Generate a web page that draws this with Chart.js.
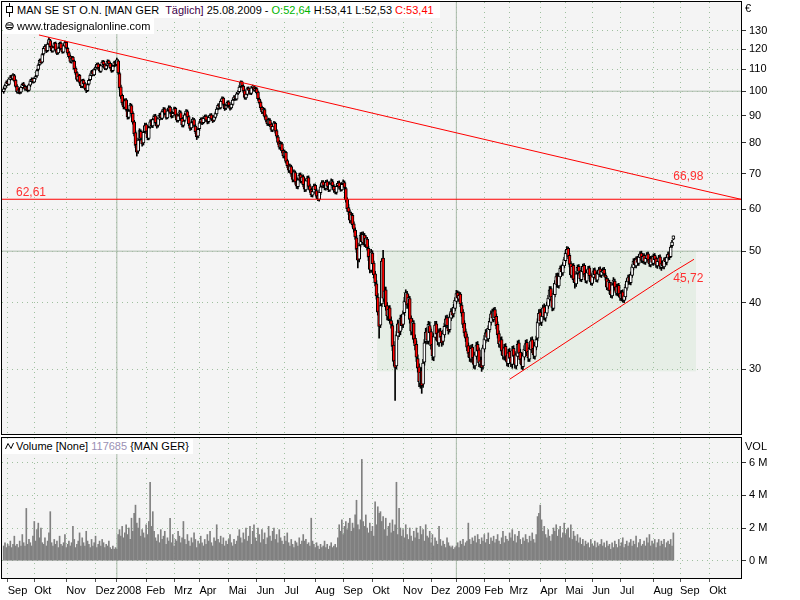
<!DOCTYPE html>
<html>
<head>
<meta charset="utf-8">
<script src="https://cdn.jsdelivr.net/npm/chart.js@4.4.1/dist/chart.umd.min.js"></script>
<style>
  body { margin:0; width:800px; height:600px; background:#fff; overflow:hidden; position:relative;
         font-family:'Liberation Sans', Arial, sans-serif; font-size:11px; color:#000; }
  canvas { position:absolute; left:0; }
  .tag { position:absolute; background:#fff; white-space:nowrap; }
  .tag svg { vertical-align:middle; }
  .axlbl { position:absolute; font-size:11px; line-height:13px; }
</style>
</head>
<body>
<canvas id="priceChart" width="800" height="436" style="top:0"></canvas>
<canvas id="volumeChart" width="800" height="164" style="top:436px"></canvas>

<div class="tag" style="left:3px;top:2px;height:16px;line-height:16px;padding:0 6px 0 2px;">
  <svg width="9" height="14" style="margin-right:3px;margin-top:-2px"><line x1="4.5" y1="0" x2="4.5" y2="14" stroke="#000"/><rect x="1.5" y="3.5" width="6" height="6" fill="#fff" stroke="#000"/></svg><span>MAN SE ST O.N. [MAN GER&nbsp; </span><span style="color:#400048">Täglich]</span> 25.08.2009 - <span style="color:#00b400">O:52,64</span> H:53,41 L:52,53 <span style="color:#ff0000">C:53,41</span>
</div>
<div class="tag" style="left:3px;top:18px;height:16px;line-height:16px;padding:0 4px 0 2px;">
  <svg width="9" height="10" style="margin-right:3px;margin-top:-2px"><ellipse cx="4.5" cy="5" rx="3.8" ry="3.5" fill="none" stroke="#000"/><line x1="1.5" y1="4" x2="7.5" y2="4" stroke="#000"/><line x1="1.5" y1="6.5" x2="7.5" y2="6.5" stroke="#000"/></svg>www.tradesignalonline.com
</div>
<div class="tag" style="left:3px;top:439px;height:15px;line-height:15px;padding:0 4px 0 2px;">
  <svg width="9" height="8" style="margin-right:2px;margin-top:-2px"><polyline points="0.5,7 3,1.5 6,6.5 8.5,1" fill="none" stroke="#000"/></svg>Volume [None] <span style="color:#9a90b4">117685</span> {MAN GER}
</div>
<div class="axlbl" style="left:745px;top:2px">€</div>
<div class="axlbl" style="left:745px;top:440px">VOL</div>

<script>
// time axis: trading-day index, first bar = 29.08.2007
const monthTicks = [3, 23, 47, 69, 85, 107, 128, 147, 169, 190, 211, 234, 255, 277, 300, 321, 340, 361, 380, 403, 422, 442, 463, 488, 508, 530];
const monthLabels = ['Sep', 'Okt', 'Nov', 'Dez', '2008', 'Feb', 'Mrz', 'Apr', 'Mai', 'Jun', 'Jul', 'Aug', 'Sep', 'Okt', 'Nov', 'Dez', '2009', 'Feb', 'Mrz', 'Apr', 'Mai', 'Jun', 'Jul', 'Aug', 'Sep', 'Okt'];
const priceTicks = [30, 40, 50, 60, 70, 80, 90, 100, 110, 120, 130];
const priceSolid = [50, 100];
const volumeTicks = [0, 2, 4, 6];

const opens = [
  99.8,101.2,102.3,104.4,103.0,105.2,106.9,105.5,107.0,104.9,
  102.3,99.5,100.8,99.6,101.5,103.3,102.1,101.1,101.9,100.4,
  102.6,104.2,105.6,104.0,105.9,106.8,109.9,112.3,114.6,113.4,
  117.5,120.1,121.8,119.2,122.8,124.6,121.6,119.0,121.1,123.2,
  119.8,118.1,120.9,123.2,120.3,118.4,121.6,123.6,120.4,118.2,
  116.5,113.5,115.9,114.0,110.6,108.4,104.9,107.1,104.2,102.1,
  104.9,103.4,101.0,100.2,103.1,105.1,107.0,109.2,107.3,110.1,
  110.7,112.6,110.9,109.0,111.6,113.8,112.5,110.2,111.9,114.1,
  112.9,111.0,109.3,111.7,113.4,112.2,114.1,108.0,101.9,98.2,
  95.5,93.2,96.3,92.0,89.3,92.1,94.0,90.9,87.6,83.6,
  79.4,77.1,81.2,84.0,81.2,79.9,83.9,86.5,84.2,81.5,
  85.7,87.9,86.0,88.6,89.9,87.1,86.2,88.6,90.5,88.9,
  91.4,92.7,90.6,89.1,92.2,93.4,91.0,89.8,91.1,92.9,
  90.3,88.0,90.2,91.2,88.9,86.2,88.1,90.5,91.6,89.6,
  86.5,85.3,87.5,88.4,86.0,84.2,82.3,85.0,87.4,88.7,
  87.3,88.7,89.8,88.0,87.6,89.1,90.3,88.5,88.1,89.3,
  90.6,92.8,94.3,93.0,95.6,97.1,94.2,92.9,94.1,95.5,
  93.8,93.0,94.4,96.4,97.7,96.6,99.1,99.8,102.0,104.1,
  102.2,100.3,97.1,98.6,101.4,100.2,99.0,101.7,101.9,100.4,
  101.1,99.6,96.6,95.4,93.3,91.2,92.4,89.9,88.0,86.7,
  88.2,86.7,84.5,85.7,87.0,84.3,82.1,80.3,78.3,79.6,
  77.4,75.4,76.7,74.0,72.6,70.8,72.1,70.0,68.0,70.3,
  67.6,66.1,68.3,69.7,67.6,69.1,66.9,65.2,67.7,68.8,
  66.4,65.3,63.7,64.6,66.5,65.0,63.6,62.6,64.4,66.3,
  67.5,66.3,65.6,67.6,66.0,65.1,67.1,67.6,66.2,65.3,
  64.5,66.4,67.3,66.2,65.2,67.0,67.3,65.6,62.6,60.4,
  59.1,57.0,58.4,56.3,54.8,53.0,50.6,48.3,51.4,53.8,
  51.9,53.6,51.4,52.7,50.6,48.9,46.0,49.6,47.5,45.3,
  43.4,41.0,38.6,36.3,39.8,48.5,40.6,42.3,39.5,37.6,
  39.1,37.0,36.2,33.3,31.2,30.4,34.6,36.7,35.3,37.6,
  36.4,38.3,40.1,41.6,39.8,40.7,37.4,35.2,36.6,34.3,
  33.4,31.4,30.3,28.2,29.8,28.1,30.9,33.8,35.4,33.8,
  36.2,35.3,33.4,31.6,34.4,36.5,35.1,33.6,35.4,34.6,
  33.8,34.8,36.3,37.5,36.0,35.6,37.4,38.6,38.1,39.0,
  40.2,41.8,40.6,41.5,39.6,38.4,36.6,35.3,34.5,33.2,
  32.3,31.3,33.0,31.6,30.4,31.7,33.4,32.6,30.6,31.3,
  30.4,32.7,34.0,35.3,34.2,35.6,36.7,38.3,37.2,38.8,
  37.7,36.4,35.0,33.3,34.1,32.6,31.6,33.1,31.8,30.7,
  32.4,31.6,30.6,32.8,31.9,30.4,31.7,33.6,32.3,31.4,
  30.3,31.6,32.5,33.7,32.4,31.3,32.6,34.1,32.8,31.7,
  33.0,34.3,36.6,38.4,36.7,37.6,39.3,37.4,38.2,39.4,
  40.6,42.5,41.1,39.0,41.4,43.3,45.0,43.0,44.7,46.6,
  45.5,46.9,48.0,49.4,50.6,49.1,47.4,44.9,47.0,44.4,
  43.4,45.5,46.8,45.6,44.2,45.7,47.0,45.4,43.9,45.4,
  46.5,45.1,43.5,44.6,46.1,45.3,44.1,45.2,46.3,45.0,
  45.6,46.2,45.1,44.4,42.6,43.7,42.3,41.2,43.4,43.9,
  42.9,41.6,43.1,41.7,40.7,41.9,40.4,41.0,42.6,43.7,
  44.8,43.6,45.0,46.5,48.1,46.9,48.5,47.4,48.6,49.6,
  47.9,49.1,47.6,48.4,49.4,48.3,47.1,48.6,47.4,49.1,
  48.4,46.9,47.7,48.8,46.6,47.6,46.7,48.3,47.6,48.5,
  49.5,48.8,51.2,52.64
];
const highs = [
  101.8,103.1,104.6,105.0,106.0,107.1,107.3,107.9,107.6,105.3,
  102.9,101.2,101.4,102.3,103.6,103.9,102.6,102.2,102.4,103.3,
  105.2,106.0,105.9,106.3,107.2,110.0,112.6,115.0,115.1,117.8,
  121.2,122.4,122.3,123.4,126.3,125.2,122.0,121.5,123.6,123.8,
  120.4,121.2,123.7,123.8,120.9,122.5,124.3,124.1,120.9,118.9,
  117.0,116.2,116.3,114.5,111.2,108.9,107.4,107.6,104.8,105.3,
  105.4,103.9,101.7,103.4,105.5,107.9,109.5,109.7,110.4,111.6,
  113.0,113.1,111.4,112.4,114.2,114.3,112.9,112.3,114.6,114.5,
  113.3,111.6,112.1,113.9,114.0,115.4,114.6,108.6,102.7,98.8,
  96.4,96.8,96.9,92.6,92.4,94.9,94.6,91.5,88.1,84.2,
  80.1,81.6,85.0,84.6,81.9,84.3,87.1,87.0,84.8,86.0,
  88.3,88.5,89.0,90.4,90.5,87.8,89.4,90.9,91.0,92.3,
  93.2,93.1,91.2,92.5,93.9,93.8,91.6,91.5,93.4,93.3,
  90.8,90.5,92.1,91.8,89.4,88.5,90.9,92.4,92.2,90.1,
  87.0,87.9,89.2,88.9,86.5,84.7,85.4,87.8,89.1,89.2,
  89.5,90.2,90.3,88.6,89.9,90.7,90.8,89.1,90.1,91.4,
  93.2,94.7,94.9,96.4,97.6,97.5,94.8,94.5,95.9,96.0,
  94.3,95.2,96.8,98.1,98.2,99.5,100.3,102.5,104.6,104.5,
  102.7,100.8,99.4,101.8,101.9,100.9,102.1,102.7,102.4,101.9,
  101.6,100.1,97.2,95.9,93.8,93.2,92.9,90.4,88.6,89.0,
  88.8,87.2,86.5,87.8,87.5,84.8,82.6,80.8,80.4,80.1,
  77.9,77.5,77.1,74.5,73.0,72.9,72.6,70.4,71.1,70.8,
  68.0,68.7,70.1,70.2,69.5,69.6,67.3,68.4,69.2,69.3,
  66.9,65.8,65.3,66.9,66.9,65.5,64.0,65.2,66.7,67.9,
  67.9,66.9,68.0,68.1,66.6,67.5,68.4,68.2,66.7,65.8,
  66.7,67.7,67.8,66.7,67.3,68.1,67.8,65.9,63.0,61.2,
  59.8,59.2,58.9,56.8,55.3,53.5,51.0,51.8,54.2,54.3,
  54.4,54.0,53.5,53.1,51.1,49.3,50.4,50.1,47.9,45.8,
  44.0,41.6,39.0,40.1,48.4,50.2,42.8,42.8,40.0,39.4,
  39.5,37.6,36.6,33.8,31.7,35.3,37.1,37.0,37.9,38.0,
  38.6,40.9,42.3,42.0,41.4,41.1,37.8,37.3,37.0,34.8,
  33.9,31.9,30.7,30.1,30.2,31.3,34.1,35.8,35.9,36.9,
  36.8,35.7,33.8,35.0,36.9,36.9,35.5,35.7,35.8,35.0,
  35.5,36.6,37.8,37.9,36.5,38.1,39.0,39.1,39.7,40.9,
  42.2,42.1,41.9,41.8,40.0,38.8,37.0,35.7,34.9,33.6,
  32.8,33.3,33.4,31.9,32.3,33.7,33.8,32.9,31.6,31.6,
  33.3,34.7,35.6,35.7,36.2,37.4,38.6,38.9,39.1,39.2,
  38.1,36.8,35.4,34.4,34.5,33.0,33.4,33.5,32.2,32.7,
  32.8,32.0,33.1,33.2,32.2,32.4,33.9,34.0,32.7,31.8,
  32.2,33.2,34.0,34.1,32.9,33.3,34.4,34.5,33.2,33.7,
  34.6,37.3,38.8,38.9,38.3,39.6,39.8,38.9,40.1,41.3,
  42.9,42.9,41.5,42.1,44.0,45.4,45.5,45.4,46.9,47.1,
  47.6,48.7,50.2,51.0,50.9,49.5,47.8,47.3,47.4,44.9,
  45.8,47.1,47.2,46.0,46.4,47.3,47.4,45.9,46.1,46.8,
  46.9,45.5,45.2,46.4,46.5,45.7,45.9,46.6,46.7,46.2,
  46.5,46.6,45.5,44.8,44.4,44.1,42.8,43.7,44.6,44.3,
  43.3,43.4,43.5,42.1,42.2,42.3,41.7,43.3,44.4,45.1,
  45.2,45.7,47.2,48.4,48.5,48.8,48.9,49.3,49.9,50.0,
  49.4,49.5,49.1,49.7,49.8,48.7,48.9,49.0,49.4,49.5,
  48.8,48.4,49.1,49.2,47.9,47.9,48.6,48.7,49.2,49.8,
  49.9,51.2,52.4,53.41
];
const lows = [
  99.1,100.6,101.8,102.6,102.7,104.8,105.2,105.0,104.1,101.7,
  99.2,99.0,98.8,99.1,101.0,101.9,100.3,100.5,99.7,100.0,
  102.0,103.8,103.6,103.7,105.2,106.3,109.2,111.8,112.5,113.0,
  116.9,119.4,118.2,118.6,122.1,120.7,118.4,118.5,120.4,118.8,
  117.1,117.4,120.2,119.5,117.9,118.0,121.0,120.1,117.2,115.4,
  113.1,112.9,113.6,109.7,107.4,104.5,104.3,103.2,101.6,101.5,
  102.5,100.6,99.4,99.8,102.6,104.6,106.5,107.0,106.9,109.5,
  110.1,110.0,108.6,108.5,111.0,111.6,109.8,109.7,111.3,112.0,
  110.2,108.5,108.7,111.1,111.4,111.7,107.6,100.8,96.9,94.2,
  92.6,92.8,91.7,88.6,88.7,91.5,89.9,86.7,82.4,78.3,
  75.5,76.4,80.6,80.9,78.8,79.2,83.3,83.4,81.0,81.0,
  85.1,85.5,85.4,88.0,86.7,85.2,85.6,88.1,88.5,88.4,
  90.9,90.2,88.6,88.7,91.7,90.6,89.0,89.2,90.6,89.5,
  87.5,87.4,89.6,88.1,85.7,85.6,87.5,89.9,88.8,86.1,
  84.4,84.6,86.9,85.6,83.2,81.1,81.7,84.3,86.8,86.5,
  86.8,88.1,87.6,86.8,87.0,88.6,88.1,87.3,87.6,88.8,
  90.1,92.2,92.5,92.6,95.1,93.8,92.0,92.3,93.6,93.4,
  92.1,92.5,94.0,96.0,96.1,96.2,98.5,99.3,101.5,101.8,
  99.5,96.6,96.5,98.1,99.8,98.6,98.5,101.0,100.0,99.8,
  98.8,96.1,94.6,92.4,90.7,90.6,89.0,87.5,86.2,86.1,
  85.8,84.0,83.9,85.2,83.4,81.6,79.4,77.8,77.6,76.5,
  74.9,74.8,73.2,71.8,70.3,70.2,69.1,67.5,67.6,66.8,
  65.6,65.5,67.7,67.2,67.1,66.1,64.7,64.8,67.2,65.6,
  64.5,63.3,63.2,64.1,64.6,62.8,62.2,62.1,63.9,65.8,
  65.9,65.2,65.1,65.6,64.7,64.8,66.5,65.8,64.5,64.1,
  64.0,65.9,65.4,64.8,64.9,66.4,65.3,61.8,59.4,58.6,
  56.5,56.4,55.5,54.3,52.6,49.7,46.5,47.7,50.9,51.5,
  51.4,51.0,50.8,50.2,48.0,45.5,45.6,46.7,44.5,43.0,
  40.6,37.9,34.3,35.9,39.3,40.2,39.8,38.7,37.1,37.0,
  36.6,35.8,32.5,30.4,26.2,30.0,34.1,34.5,34.8,35.6,
  35.9,37.8,39.6,39.0,39.2,36.6,34.8,34.9,33.6,32.6,
  31.0,29.6,27.8,27.6,27.0,27.7,30.5,33.4,33.5,33.4,
  34.6,32.7,31.2,31.1,34.0,34.4,33.3,33.1,33.9,33.1,
  33.3,34.4,35.9,35.8,34.9,35.2,37.0,37.4,37.6,38.6,
  39.8,40.3,40.2,39.3,37.7,35.9,34.6,33.8,32.5,31.6,
  31.0,30.9,30.9,30.1,30.0,31.3,32.0,30.3,30.2,29.7,
  30.0,32.3,33.6,33.9,33.8,35.2,36.3,37.0,36.8,37.1,
  35.7,34.3,33.0,32.9,31.9,31.3,31.2,31.1,30.4,30.3,
  30.9,30.3,30.1,31.2,30.1,30.0,31.3,31.7,30.7,30.0,
  29.9,31.2,32.0,31.8,31.0,31.0,32.2,32.2,31.4,31.3,
  32.6,33.9,36.2,36.4,36.2,37.2,37.1,36.9,37.8,39.0,
  40.1,40.4,38.6,38.7,41.0,42.8,42.7,42.6,44.3,45.2,
  45.0,46.5,47.6,49.0,48.4,46.7,44.6,44.5,43.7,42.6,
  42.9,45.0,45.3,43.9,43.8,45.2,44.7,43.6,43.5,45.0,
  44.4,43.2,43.1,44.2,44.6,43.8,43.7,44.8,44.7,44.6,
  45.1,44.8,44.1,42.3,42.2,41.6,40.9,40.8,42.8,42.2,
  41.3,41.2,41.0,40.4,40.3,40.1,40.0,40.6,42.2,43.3,
  43.3,43.2,44.6,46.1,46.6,46.5,47.1,47.0,48.1,47.6,
  47.5,47.3,47.2,48.0,47.6,46.8,46.7,47.1,47.0,47.7,
  46.6,46.4,47.3,46.3,46.0,46.4,46.3,47.3,47.1,48.1,
  48.2,48.6,50.8,52.53
];
const closes = [
  101.0,102.5,104.0,103.2,105.5,106.4,105.8,107.2,104.6,102.1,
  99.8,100.6,99.4,101.8,103.0,102.4,100.9,101.6,100.2,102.8,
  104.6,105.3,104.2,105.8,106.5,109.4,112.0,114.3,113.1,117.2,
  120.4,121.5,118.9,122.6,125.1,121.3,119.2,120.8,122.9,119.5,
  117.8,120.6,123.0,120.1,118.6,121.9,123.4,120.7,117.9,116.2,
  113.8,115.6,114.2,110.3,108.1,105.2,106.8,103.9,102.4,104.7,
  103.1,101.2,100.4,102.9,104.8,107.3,108.9,107.6,109.8,110.9,
  112.4,110.6,109.2,111.8,113.5,112.2,110.4,111.7,113.9,112.6,
  110.8,109.1,111.5,113.2,112.0,114.6,108.2,101.5,97.8,95.1,
  93.4,96.0,92.3,89.5,91.8,94.2,90.6,87.4,83.2,79.1,
  76.8,80.9,84.3,81.5,79.6,83.7,86.2,84.0,81.8,85.4,
  87.6,86.1,88.4,89.7,87.3,85.9,88.8,90.2,89.1,91.6,
  92.4,90.8,89.3,91.9,93.1,91.2,89.6,90.9,92.7,90.1,
  88.2,89.9,91.5,88.7,86.4,87.9,90.3,91.8,89.4,86.8,
  85.1,87.3,88.6,86.2,83.9,82.1,84.8,87.2,88.5,87.1,
  88.9,89.6,88.2,87.4,89.3,90.1,88.7,87.9,89.5,90.8,
  92.6,94.1,93.2,95.8,96.9,94.4,92.7,93.9,95.3,94.0,
  92.8,94.6,96.2,97.5,96.8,98.9,99.6,101.8,103.9,102.4,
  100.1,97.3,98.8,101.2,100.4,99.2,101.5,102.1,100.6,101.3,
  99.4,96.8,95.2,93.1,91.4,92.6,89.7,88.2,86.9,88.4,
  86.5,84.7,85.9,87.2,84.1,82.3,80.1,78.5,79.8,77.2,
  75.6,76.9,73.8,72.4,71.0,72.3,69.8,68.2,70.5,67.4,
  66.3,68.1,69.5,67.8,68.9,66.7,65.4,67.9,68.6,66.2,
  65.1,63.9,64.8,66.3,65.2,63.4,62.8,64.6,66.1,67.3,
  66.5,65.8,67.4,66.2,65.3,66.9,67.8,66.4,65.1,64.7,
  66.2,67.1,66.0,65.4,66.8,67.5,65.9,62.4,60.1,59.3,
  57.2,58.6,56.1,55.0,53.2,50.4,48.1,51.2,53.6,52.1,
  53.8,51.6,52.9,50.8,48.7,46.2,49.8,47.3,45.1,43.6,
  41.2,38.4,36.1,39.5,47.9,40.8,42.1,39.3,37.8,38.9,
  37.2,36.4,33.1,31.0,30.2,34.8,36.5,35.1,37.4,36.2,
  38.1,40.3,41.8,39.6,40.9,37.2,35.4,36.8,34.1,33.2,
  31.6,30.1,28.4,29.6,27.9,30.8,33.6,35.2,34.0,36.4,
  35.1,33.2,31.8,34.6,36.3,34.9,33.8,35.2,34.4,33.6,
  35.0,36.1,37.3,36.2,35.4,37.6,38.5,37.9,39.2,40.4,
  41.6,40.8,41.3,39.8,38.2,36.4,35.1,34.3,33.0,32.1,
  31.5,32.8,31.4,30.6,31.9,33.2,32.4,30.8,31.1,30.2,
  32.9,34.2,35.1,34.4,35.8,36.9,38.1,37.4,38.6,37.5,
  36.2,34.8,33.5,33.9,32.4,31.8,32.9,31.6,30.9,32.2,
  31.4,30.8,32.6,31.7,30.6,31.9,33.4,32.1,31.2,30.5,
  31.8,32.7,33.5,32.2,31.5,32.8,33.9,32.6,31.9,33.2,
  34.1,36.8,38.2,36.9,37.8,39.1,37.6,38.4,39.6,40.8,
  42.3,40.9,39.2,41.6,43.5,44.8,43.2,44.9,46.4,45.7,
  47.1,48.2,49.6,50.4,48.9,47.2,45.1,46.8,44.2,43.6,
  45.3,46.6,45.8,44.4,45.9,46.8,45.2,44.1,45.6,46.3,
  44.9,43.7,44.8,45.9,45.1,44.3,45.4,46.1,45.2,45.8,
  46.0,45.3,44.6,42.8,43.9,42.1,41.4,43.2,44.1,42.7,
  41.8,42.9,41.5,40.9,41.7,40.6,41.2,42.8,43.9,44.6,
  43.8,45.2,46.7,47.9,47.1,48.3,47.6,48.8,49.4,48.1,
  48.9,47.8,48.6,49.2,48.1,47.3,48.4,47.6,48.9,48.2,
  47.1,47.9,48.6,46.8,47.4,46.9,48.1,47.8,48.7,49.3,
  48.6,50.9,52.0,53.41
];
// volume in millions
const volumes = [
  0.9,1.1,0.8,1.0,0.9,1.2,0.8,1.0,1.5,0.9,
  1.0,0.8,1.2,0.9,1.6,1.1,0.9,3.2,1.0,1.3,
  1.1,0.9,1.5,2.4,1.2,1.9,2.3,1.4,2.0,1.1,
  1.0,1.4,0.9,1.2,1.7,3.0,1.1,0.9,1.3,1.0,
  1.2,0.8,1.5,1.0,0.9,1.1,1.6,0.8,1.0,1.2,
  0.9,1.1,2.1,1.3,0.8,1.0,1.2,1.7,0.9,1.4,
  1.1,0.9,1.8,1.2,1.0,0.8,1.3,0.9,1.1,1.5,
  0.8,1.0,1.2,0.9,1.3,1.1,0.8,1.0,0.9,1.2,
  0.8,0.7,0.9,0.7,0.8,0.7,1.6,1.9,1.5,2.1,
  1.4,1.7,2.2,1.6,2.0,1.3,2.6,1.8,2.9,3.4,
  2.3,2.0,2.6,1.5,1.9,1.7,1.4,2.2,1.6,2.4,
  4.8,2.1,3.0,1.8,1.4,1.2,1.6,1.1,1.9,1.3,
  1.5,1.8,1.0,1.4,1.2,2.6,1.1,1.6,0.9,1.3,
  1.2,1.8,1.5,1.1,1.4,2.4,1.3,1.0,1.6,1.2,
  0.9,1.4,1.1,1.7,1.3,0.8,1.2,1.0,1.5,1.1,
  0.9,1.3,1.0,1.6,1.2,1.8,1.1,0.9,1.4,1.2,
  2.2,1.3,1.1,1.5,1.0,1.4,0.9,1.2,1.0,1.3,
  1.6,1.1,0.9,1.3,1.0,1.2,1.5,1.9,1.4,1.1,
  1.7,1.3,2.0,1.2,1.5,2.1,1.0,1.8,2.2,1.4,
  1.2,2.0,1.6,1.1,1.9,1.3,1.7,1.0,1.4,2.1,
  1.5,1.2,1.8,2.0,1.3,1.6,1.1,1.9,1.4,1.2,
  1.0,1.5,1.2,1.7,1.1,0.9,1.3,1.0,0.8,1.2,
  1.1,0.9,1.4,1.0,1.2,1.6,1.2,1.3,1.0,1.1,
  0.9,2.6,1.2,1.0,0.8,1.1,0.9,0.7,1.0,0.8,
  0.9,1.2,0.8,1.0,0.7,0.9,1.1,0.8,0.9,1.0,
  0.8,1.4,2.2,1.8,2.5,1.6,2.1,2.4,1.9,2.3,
  2.6,1.8,2.3,2.0,2.8,3.7,2.2,1.9,2.5,6.2,
  2.4,2.1,2.8,2.0,1.7,2.3,1.8,2.1,1.5,3.6,
  2.2,3.3,2.9,3.0,2.4,2.7,1.9,2.6,1.5,2.1,
  2.3,1.7,2.5,1.8,2.2,4.8,1.6,3.2,2.0,1.5,
  1.9,1.4,2.2,1.6,1.3,2.0,1.5,1.2,1.8,1.4,
  2.0,1.7,1.3,2.1,1.6,1.9,1.2,2.2,1.5,1.4,
  1.8,1.1,1.6,0.9,1.4,1.2,1.0,2.1,1.3,0.9,
  1.2,1.0,0.8,1.4,1.1,0.9,0.8,0.9,0.7,0.8,
  0.9,1.1,0.8,1.2,1.0,1.3,0.9,1.1,1.2,2.3,
  1.3,1.0,1.4,1.2,1.5,1.1,1.6,1.3,1.0,1.4,
  1.2,1.6,1.1,1.3,1.7,1.0,1.4,1.2,1.5,1.1,
  1.3,1.6,1.2,1.0,1.4,1.8,1.1,1.5,1.3,1.2,
  1.7,1.4,1.9,1.2,1.6,1.1,1.5,1.8,1.3,1.0,
  1.4,1.2,1.6,1.3,1.1,1.5,1.2,1.7,1.3,1.1,
  1.6,2.7,2.9,3.4,2.5,1.8,2.1,1.6,1.4,1.9,
  1.5,1.2,1.6,2.0,1.8,2.2,1.5,1.9,2.1,1.4,
  1.7,2.3,1.6,1.9,2.0,1.4,2.2,1.3,1.8,1.5,
  1.2,1.6,1.1,1.4,1.0,1.3,0.9,1.2,1.0,1.1,
  0.8,1.3,1.0,0.9,1.2,0.8,1.1,0.9,1.0,1.3,
  0.9,1.1,0.8,1.2,0.9,1.0,0.7,1.1,0.8,1.2,
  1.0,0.8,1.3,0.9,1.1,1.4,0.8,1.0,1.2,0.9,
  1.1,1.3,0.9,1.2,1.0,1.5,0.8,1.1,1.3,0.9,
  1.0,1.2,0.9,1.4,1.1,1.6,0.9,1.2,1.0,1.3,
  0.8,1.1,1.3,0.9,1.2,1.0,1.3,0.8,1.1,1.2,
  1.0,1.3,0.9,1.7
];

// drawn studies (index, price)
const resistance = 62.61;
const downTrend = [[26.5, 127.6], [503, 66.98], [553.8, 62.6]];
const upTrend = [[380, 28.7], [503, 45.72], [518.5, 48.27]];
const rangeBox = { from: 280.4, to: 520, low: 29.7, high: 50 };
const lastBar = 503;

const X_MIN = -1.26, X_MAX = 553.8;
const P_MIN = 22.64, P_MAX = 147.2;
const V_MIN = -1.06, V_MAX = 7.51;

const DOT = '#9fc09f';
const SOLID = '#a9baa9';
const RED = '#ff0000';

Chart.defaults.font.family = "'Liberation Sans', Arial, sans-serif";
Chart.defaults.font.size = 11;
Chart.defaults.color = '#000';

const yearTicks = monthTicks.filter((t, i) => /^\d{4}$/.test(monthLabels[i]));

function paneFrame(box) {
  return {
    id: 'paneFrame',
    beforeDraw(chart) {
      const { ctx, chartArea: a } = chart;
      ctx.save();
      ctx.fillStyle = '#f4f4f4';
      ctx.fillRect(a.left, a.top, a.right - a.left, a.bottom - a.top);
      if (box) {
        const x = chart.scales.x, y = chart.scales.y;
        const x0 = x.getPixelForValue(box.from), x1 = x.getPixelForValue(box.to);
        const y0 = y.getPixelForValue(box.high), y1 = y.getPixelForValue(box.low);
        ctx.fillStyle = '#e6eee6';
        ctx.fillRect(x0, y0, x1 - x0, y1 - y0);
      }
      ctx.restore();
    },
    afterDraw(chart) {
      const { ctx, chartArea: a } = chart;
      ctx.save();
      ctx.strokeStyle = '#000';
      ctx.lineWidth = 1;
      ctx.strokeRect(a.left - 0.5, a.top - 0.5, a.right - a.left + 1, a.bottom - a.top + 1);
      ctx.restore();
    }
  };
}

const fmt = v => v.toFixed(2).replace('.', ',');

const studyLabels = {
  id: 'studyLabels',
  afterDatasetsDraw(chart) {
    const { ctx, chartArea: a } = chart;
    const x = chart.scales.x, y = chart.scales.y;
    ctx.save();
    ctx.fillStyle = '#ff3030';
    ctx.font = "12px 'Liberation Sans', Arial, sans-serif";
    ctx.textBaseline = 'middle';
    ctx.fillText(fmt(resistance), a.left + 14, y.getPixelForValue(resistance) - 7);
    ctx.fillText(fmt(downTrend[1][1]), x.getPixelForValue(lastBar), y.getPixelForValue(downTrend[1][1]) - 7);
    ctx.fillText(fmt(upTrend[1][1]), x.getPixelForValue(lastBar), y.getPixelForValue(upTrend[1][1]) + 7);
    ctx.restore();
  }
};

const pts = arr => arr.map(([x, y]) => ({ x, y }));
const refLine = (data, color, width, order) => ({
  type: 'line', data, borderColor: color, borderWidth: width, pointRadius: 0, order
});

const bodyData = closes.map((c, i) => ({ x: i, y: [opens[i], c] }));
const wickData = closes.map((c, i) => ({ x: i, y: [lows[i], highs[i]] }));
const bodyColors = closes.map((c, i) => (c < opens[i] ? '#ff0000' : '#ffffff'));

const priceDatasets = [
  refLine(pts([[X_MIN, resistance], [X_MAX, resistance]]), RED, 1.2, 0),
  refLine(pts(downTrend), RED, 1, 0),
  refLine(pts(upTrend), RED, 1, 0),
  { type: 'bar', data: bodyData, backgroundColor: bodyColors, borderColor: '#000', borderWidth: 1,
    borderSkipped: false, barThickness: 3, grouped: false, order: 1 },
  { type: 'bar', data: wickData, backgroundColor: '#000', borderWidth: 0,
    barThickness: 1, grouped: false, order: 2 }
];
priceSolid.forEach(v => priceDatasets.push(refLine(pts([[X_MIN, v], [X_MAX, v]]), SOLID, 1, 5)));
yearTicks.forEach(t => priceDatasets.push(refLine(pts([[t, P_MIN], [t, P_MAX]]), SOLID, 1, 5)));

// keep the plot area exactly where the layout padding puts it
const noEdgePadding = s => { s.paddingTop = 0; s.paddingBottom = 0; s.paddingLeft = 0; s.paddingRight = 0; };

const timeAxis = (showLabels) => ({
  type: 'linear', min: X_MIN, max: X_MAX, offset: false,
  afterBuildTicks: s => { s.ticks = monthTicks.map(v => ({ value: v })); },
  afterFit: s => { s.height = showLabels ? 22 : 0; noEdgePadding(s); },
  ticks: {
    display: showLabels, align: 'start', autoSkip: false, maxRotation: 0, minRotation: 0, padding: 2,
    callback: v => monthLabels[monthTicks.indexOf(v)]
  },
  grid: { color: DOT, lineWidth: 1, offset: false, drawTicks: showLabels, tickLength: 4, tickColor: '#555' },
  border: { display: false, dash: [1, 4] }
});

new Chart(document.getElementById('priceChart'), {
  type: 'bar',
  data: { datasets: priceDatasets },
  options: {
    responsive: false, animation: false, devicePixelRatio: 1,
    layout: { padding: { left: 2, top: 2, right: 0, bottom: 2 } },
    plugins: { legend: { display: false }, tooltip: { enabled: false } },
    scales: {
      x: timeAxis(false),
      y: {
        type: 'logarithmic', position: 'right', min: P_MIN, max: P_MAX,
        afterBuildTicks: s => { s.ticks = priceTicks.map(v => ({ value: v })); },
        afterFit: s => { s.width = 59; noEdgePadding(s); },
        ticks: { callback: v => String(v), padding: 3, autoSkip: false },
        grid: { color: DOT, tickColor: '#333', tickLength: 5 },
        border: { display: false, dash: [1, 4] }
      }
    }
  },
  plugins: [paneFrame(rangeBox), studyLabels]
});

const volumeDatasets = [
  { type: 'bar', data: volumes.map((v, i) => ({ x: i, y: v })), backgroundColor: '#808080',
    borderWidth: 0, barThickness: 1, grouped: false, order: 1 }
];
yearTicks.forEach(t => volumeDatasets.push(refLine(pts([[t, V_MIN], [t, V_MAX]]), SOLID, 1, 5)));

new Chart(document.getElementById('volumeChart'), {
  type: 'bar',
  data: { datasets: volumeDatasets },
  options: {
    responsive: false, animation: false, devicePixelRatio: 1,
    layout: { padding: { left: 2, top: 2, right: 0, bottom: 0 } },
    plugins: { legend: { display: false }, tooltip: { enabled: false } },
    scales: {
      x: timeAxis(true),
      y: {
        type: 'linear', position: 'right', min: V_MIN, max: V_MAX,
        afterBuildTicks: s => { s.ticks = volumeTicks.map(v => ({ value: v })); },
        afterFit: s => { s.width = 59; noEdgePadding(s); },
        ticks: { callback: v => v + ' M', padding: 3, autoSkip: false },
        grid: { color: DOT, tickColor: '#333', tickLength: 5 },
        border: { display: false, dash: [1, 4] }
      }
    }
  },
  plugins: [paneFrame(null)]
});
</script>
</body>
</html>
